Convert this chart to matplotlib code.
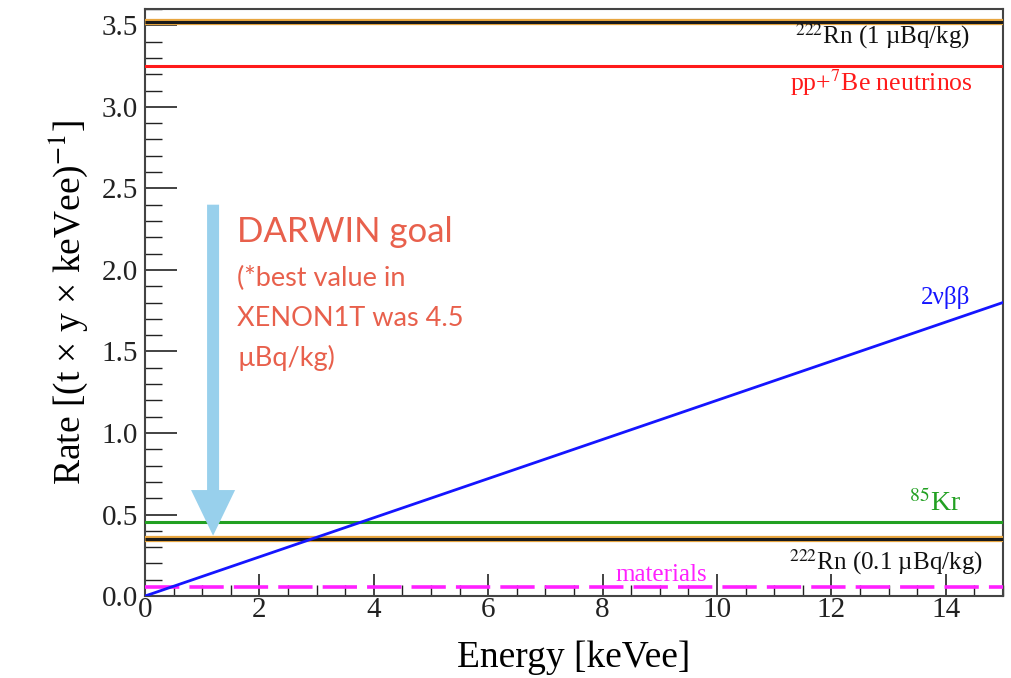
import numpy as np
import matplotlib
matplotlib.use("Agg")
import matplotlib.pyplot as plt
from matplotlib.patches import FancyArrow
from matplotlib.ticker import MultipleLocator

# ---- data ----
energy = [0.0, 15.0]
rate_2nbb = [0.0, 1.80]
rn222_high = 3.52
pp_be7 = 3.25
kr85 = 0.456
rn222_low = 0.35
materials = 0.055
arrow_x = 1.19
arrow_from = 2.40
arrow_to = 0.37

plt.rcParams['font.family'] = ['Liberation Serif', 'DejaVu Serif']
plt.rcParams['mathtext.fontset'] = 'stix'

fig = plt.figure(figsize=(10.12, 6.78), dpi=100)
ax = fig.add_axes([0.1433, 0.1209, 0.8477, 0.8658])
ax.set_xlim(0, 15)
ax.set_ylim(0, 3.6)

# Rn lines (black with orange outline)
for yv in (rn222_high, rn222_low):
    ax.plot(energy, [yv, yv], color='#E8A640', lw=4.5, solid_capstyle='butt', zorder=3)
    ax.plot(energy, [yv, yv], color='#1a1a1a', lw=2.2, solid_capstyle='butt', zorder=4)
ax.plot(energy, [pp_be7, pp_be7], color='#FF1A1A', lw=2.2, zorder=3)
ax.plot(energy, [kr85, kr85], color='#22A022', lw=2.2, zorder=3)
ax.plot(energy, rate_2nbb, color='#1515FF', lw=2.0, zorder=5)
ax.plot(energy, [materials, materials], color='#FF20FF', lw=2.6,
        dashes=(9.5, 2.8), zorder=3)

# labels
ax.text(14.43, 3.435, r'$^{222}$Rn (1 µBq/kg)', color='#111', fontsize=18,
        ha='right', va='center')
ax.text(14.47, 3.15, r'pp+$^{7}$Be neutrinos', color='#FF1A1A', fontsize=18.5,
        ha='right', va='center')
ax.text(14.43, 1.83, r'2νββ', color='#1515FF', fontsize=18, ha='right', va='center')
ax.text(14.27, 0.57, r'$^{85}$Kr', color='#22A022', fontsize=20, ha='right', va='center')
ax.text(14.64, 0.21, r'$^{222}$Rn (0.1 µBq/kg)', color='#111', fontsize=18,
        ha='right', va='center')
ax.text(9.03, 0.13, 'materials', color='#FF20FF', fontsize=18, ha='center', va='center')

# arrow
arr = FancyArrow(arrow_x, arrow_from, 0, arrow_to - arrow_from, width=0.21,
                 head_width=0.77, head_length=0.28, length_includes_head=True,
                 color='#98D0EC', lw=0, zorder=6)
ax.add_patch(arr)

# annotation text
tc = '#E8604C'
ax.text(1.61, 2.23, 'DARWIN goal', color=tc, fontsize=25, ha='left', va='center',
        family=['Lato', 'DejaVu Sans'])
for yy, s in [(1.95, '(*best value in'), (1.705, 'XENON1T was 4.5'), (1.46, 'µBq/kg)')]:
    ax.text(1.61, yy, s, color=tc, fontsize=19.5, ha='left', va='center',
            family=['Lato', 'DejaVu Sans'])

# axes style
ax.xaxis.set_major_locator(MultipleLocator(2))
ax.xaxis.set_minor_locator(MultipleLocator(0.5))
ax.yaxis.set_major_locator(MultipleLocator(0.5))
ax.yaxis.set_minor_locator(MultipleLocator(0.1))
ax.tick_params(which='both', direction='in', top=False, right=False, colors='#222',
               labelsize=21)
ax.tick_params(axis='y', which='major', length=23, width=1.2)
ax.tick_params(axis='y', which='minor', length=12, width=1.0)
ax.tick_params(axis='x', which='major', length=16, width=1.2)
ax.tick_params(axis='x', which='minor', length=8, width=1.0)
ax.tick_params(axis='x', pad=1)
ax.tick_params(axis='y', pad=5)
ax.set_xticklabels([str(int(v)) for v in ax.get_xticks()])
for sp in ax.spines.values():
    sp.set_linewidth(1.5)
    sp.set_color('#444')

ax.set_xlabel('Energy [keVee]', fontsize=27, labelpad=12)
ax.set_ylabel(r'Rate [(t × y × keVee)$^{-1}$]', fontsize=27, labelpad=8)

fig.savefig('out.png', dpi=100)
